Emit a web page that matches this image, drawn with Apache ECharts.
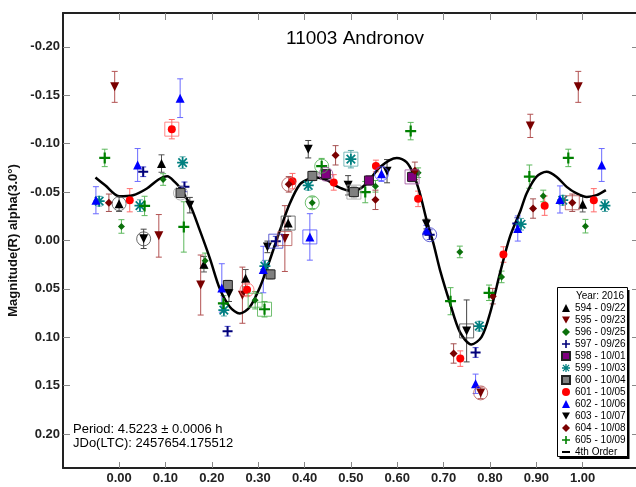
<!DOCTYPE html>
<html>
<head>
<meta charset="utf-8">
<script src="https://cdn.jsdelivr.net/npm/echarts@6/dist/echarts.min.js"></script>
<style>
  html, body { margin: 0; padding: 0; background: #fff; }
  #chart { width: 636px; height: 487px; }
</style>
</head>
<body>
<div id="chart"></div>
<script>
// Lightcurve of 11003 Andronov: [phase, magnitude, error] per observing session
const s594 = [[0.000,-0.038,0.008],[0.0915,-0.0795,0.009],[0.183,0.0245,0.008],[0.273,0.039,0.009],[0.3647,-0.018,0.007],[1.000,-0.0375,0.008]];
const s595 = [[-0.0095,-0.1587,0.016],[0.0857,-0.0048,0.022],[0.176,0.046,0.031],[0.266,0.0565,0.029],[0.3576,-0.002,0.034],[0.780,0.1574,0.006],[0.887,-0.1184,0.012],[0.9905,-0.1587,0.016]];
const s596 = [[0.005,-0.0145,0.007],[0.095,-0.063,0.006],[0.1856,0.021,0.008],[0.2935,0.0617,0.009],[0.4166,-0.039,0.006],[0.553,-0.056,0.006],[0.645,-0.070,0.005],[0.735,0.0118,0.006],[0.825,0.0376,0.006],[0.915,-0.046,0.006],[1.006,-0.0148,0.007]];
const s597 = [[0.052,-0.071,0.005],[0.141,-0.0554,0.005],[0.234,0.0937,0.005],[0.338,0.0007,0.005],[0.670,-0.006,0.005],[0.769,0.1157,0.005],[0.859,-0.0175,0.006]];
const s598 = [[0.446,-0.0685,0.005],[0.539,-0.062,0.005],[0.632,-0.0657,0.005]];
const s599 = [[-0.043,-0.0406,0.005],[0.045,-0.036,0.006],[0.137,-0.0805,0.006],[0.226,0.072,0.006],[0.3145,0.0265,0.006],[0.408,-0.057,0.005],[0.500,-0.084,0.009],[0.777,0.0885,0.005],[0.867,-0.0168,0.006],[0.957,-0.0416,0.005],[1.048,-0.036,0.006]];
const s600 = [[0.1325,-0.049,0.004],[0.2346,0.046,0.005],[0.3267,0.035,0.005],[0.417,-0.0667,0.005],[0.5065,-0.050,0.006]];
const s601 = [[0.023,-0.0416,0.012],[0.1137,-0.115,0.010],[0.276,0.051,0.006],[0.374,-0.0613,0.008],[0.463,-0.060,0.008],[0.554,-0.077,0.006],[0.645,-0.043,0.008],[0.736,0.122,0.008],[0.829,0.0145,0.008],[0.918,-0.036,0.010],[1.024,-0.0416,0.012]];
const s602 = [[-0.050,-0.0416,0.014],[0.040,-0.078,0.017],[0.1317,-0.147,0.020],[0.2216,0.049,0.025],[0.311,0.030,0.024],[0.4115,-0.0037,0.024],[0.566,-0.069,0.008],[0.663,-0.0106,0.005],[0.769,0.148,0.010],[0.860,-0.0124,0.013],[0.951,-0.0424,0.014],[1.041,-0.078,0.017]];
const s603 = [[0.053,-0.0017,0.010],[0.1526,-0.0365,0.008],[0.237,0.055,0.008],[0.320,0.0066,0.006],[0.408,-0.0943,0.009],[0.494,-0.057,0.010],[0.578,-0.0716,0.012],[0.663,-0.017,0.005],[0.7497,0.0934,0.032]];
const s604 = [[-0.022,-0.039,0.009],[0.366,-0.058,0.008],[0.467,-0.088,0.010],[0.553,-0.042,0.010],[0.638,-0.072,0.009],[0.7216,0.1167,0.010],[0.806,0.0575,0.008],[0.893,-0.033,0.010],[0.9776,-0.039,0.009]];
const s605 = [[-0.031,-0.0853,0.009],[0.055,-0.0357,0.010],[0.1396,-0.014,0.026],[0.225,0.065,0.008],[0.3137,0.071,0.008],[0.437,-0.0768,0.008],[0.531,-0.050,0.011],[0.629,-0.113,0.009],[0.715,0.0627,0.014],[0.798,0.054,0.008],[0.885,-0.066,0.012],[0.969,-0.0853,0.009]];

// Session start / end markers: [phase, magnitude, session]
const circled = [[0.000,-0.038,'594'],[0.053,-0.0017,'603'],[0.1325,-0.049,'600'],[0.276,0.051,'601'],[0.366,-0.058,'604'],[0.4166,-0.039,'596'],[0.437,-0.0768,'605'],[0.446,-0.0685,'598'],[0.566,-0.069,'602'],[0.670,-0.006,'597'],[0.780,0.1574,'595']];
const squared = [[0.1137,-0.115,'601'],[0.2935,0.0617,'596'],[0.3137,0.071,'605'],[0.338,0.0007,'597'],[0.3576,-0.002,'595'],[0.3647,-0.018,'594'],[0.4115,-0.0037,'602'],[0.500,-0.084,'599'],[0.5065,-0.050,'600'],[0.632,-0.0657,'598'],[0.7497,0.0934,'603'],[0.9776,-0.039,'604']];

// 4th order Fourier fit
const fitPhase = [-0.051,-0.03,0.0,0.03,0.06,0.085,0.104,0.12,0.131,0.153,0.174,0.196,0.217,0.239,0.2605,0.282,0.304,0.325,0.347,0.368,0.39,0.412,0.426,0.448,0.469,0.491,0.508,0.534,0.563,0.599,0.62,0.6345,0.649,0.6634,0.678,0.692,0.714,0.735,0.760,0.782,0.80,0.8215,0.843,0.866,0.879,0.90,0.922,0.944,0.9655,0.987,1.009,1.03,1.05];
const fitMag = [-0.065,-0.057,-0.0458,-0.0468,-0.0537,-0.063,-0.0664,-0.0605,-0.0545,-0.037,-0.0107,0.0187,0.0496,0.0686,0.0754,0.0686,0.048,0.0204,-0.0106,-0.038,-0.058,-0.064,-0.065,-0.0623,-0.0562,-0.052,-0.0515,-0.0589,-0.076,-0.0853,-0.081,-0.069,-0.0485,-0.021,0.003,0.030,0.065,0.0944,0.1074,0.0996,0.0754,0.034,-0.0037,-0.031,-0.0486,-0.0657,-0.0709,-0.0657,-0.0554,-0.0486,-0.045,-0.0468,-0.052];

const phaseTicks = [0.0,0.1,0.2,0.3,0.4,0.5,0.6,0.7,0.8,0.9,1.0];
const magTicks = [-0.20,-0.15,-0.10,-0.05,0.00,0.05,0.10,0.15,0.20];

const FONT = '"Liberation Sans", Arial, Helvetica, sans-serif';

const TRI_DOWN = 'path://M0,0L10,0L5,9Z';
const PLUS = 'path://M4,0h2v4h4v2h-4v4h-2v-4h-4v-2h4z';
const ASTER = 'path://M0,4.2h10v1.6h-10z M4.2,0h1.6v10h-1.6z M0.6,1.7L1.7,0.6L9.4,8.3L8.3,9.4Z M8.3,0.6L9.4,1.7L1.7,9.4L0.6,8.3Z';

const sessions = [
  { id: '594', name: '594 - 09/22', data: s594, symbol: 'triangle', size: 9, color: '#000000', bar: '#555555', ring: '#555555' },
  { id: '595', name: '595 - 09/23', data: s595, symbol: TRI_DOWN, size: 9, color: '#7a0000', bar: '#b35353', ring: '#b35353' },
  { id: '596', name: '596 - 09/25', data: s596, symbol: 'diamond', size: 7, color: '#0b700b', bar: '#5cb85c', ring: '#4caf4c' },
  { id: '597', name: '597 - 09/26', data: s597, symbol: PLUS, size: 10, color: '#00007a', bar: '#4d4dd6', ring: '#3a3ac8' },
  { id: '598', name: '598 - 10/01', data: s598, symbol: 'rect', size: 9, color: '#800080', bar: '#a55aa5', ring: '#a04ca0' },
  { id: '599', name: '599 - 10/03', data: s599, symbol: ASTER, size: 11, color: '#008080', bar: '#5aaaaa', ring: '#5aaaaa' },
  { id: '600', name: '600 - 10/04', data: s600, symbol: 'rect', size: 9, color: '#808080', bar: '#aaaaaa', ring: '#a0a0a0' },
  { id: '601', name: '601 - 10/05', data: s601, symbol: 'circle', size: 8, color: '#ff0000', bar: '#ff6b6b', ring: '#ff6b6b' },
  { id: '602', name: '602 - 10/06', data: s602, symbol: 'triangle', size: 9, color: '#0000ff', bar: '#6b6bff', ring: '#4d4dff' },
  { id: '603', name: '603 - 10/07', data: s603, symbol: TRI_DOWN, size: 9, color: '#000000', bar: '#444444', ring: '#444444' },
  { id: '604', name: '604 - 10/08', data: s604, symbol: 'diamond', size: 8, color: '#7a0000', bar: '#a55050', ring: '#b35353' },
  { id: '605', name: '605 - 10/09', data: s605, symbol: PLUS, size: 11, color: '#008000', bar: '#5cb85c', ring: '#4caf4c' }
];
const byId = {};
sessions.forEach(s => { byId[s.id] = s; });

function errorBars(s) {
  return {
    type: 'custom',
    name: s.name + ' err',
    data: s.data,
    z: 2,
    silent: true,
    renderItem: function (params, api) {
      const x = api.value(0), y = api.value(1), e = api.value(2);
      const a = api.coord([x, y - e]);
      const b = api.coord([x, y + e]);
      const st = { stroke: s.bar, lineWidth: 1 };
      return {
        type: 'group',
        children: [
          { type: 'line', shape: { x1: a[0], y1: a[1], x2: b[0], y2: b[1] }, style: st },
          { type: 'line', shape: { x1: a[0] - 3, y1: a[1], x2: a[0] + 3, y2: a[1] }, style: st },
          { type: 'line', shape: { x1: b[0] - 3, y1: b[1], x2: b[0] + 3, y2: b[1] }, style: st }
        ]
      };
    }
  };
}

function markers(s) {
  const boxed = s.symbol === 'rect';
  return {
    type: 'scatter',
    name: s.name,
    data: s.data.map(d => [d[0], d[1]]),
    symbol: s.symbol,
    symbolSize: s.size,
    z: 4,
    itemStyle: {
      color: s.color,
      opacity: 1,
      borderColor: boxed ? '#222' : s.color,
      borderWidth: boxed ? 1 : 0
    }
  };
}

function rings(list, symbol, size) {
  return {
    type: 'scatter',
    data: list.map(r => ({
      value: [r[0], r[1]],
      itemStyle: { color: 'none', borderColor: byId[r[2]].ring, borderWidth: 1 }
    })),
    symbol: symbol,
    symbolSize: size,
    z: 5,
    silent: true
  };
}

const series = [];
sessions.forEach(s => series.push(errorBars(s)));
series.push({
  type: 'line',
  name: '4th Order',
  data: fitPhase.map((p, i) => [p, fitMag[i]]),
  smooth: 0.3,
  symbol: 'none',
  z: 3,
  lineStyle: { color: '#000', width: 2.5 },
  itemStyle: { color: '#000' }
});
sessions.forEach(s => series.push(markers(s)));
series.push(rings(circled, 'circle', 14));
series.push(rings(squared, 'rect', 14));

const axisLineStyle = { color: '#222', width: 2 };
const tickStyle = { color: '#888', width: 1 };
const labelStyle = { fontFamily: FONT, fontSize: 13, fontWeight: 'bold', color: '#222' };

const option = {
  animation: false,
  backgroundColor: '#fff',
  grid: { left: 63, top: 13, width: 576, height: 455, containLabel: false, outerBoundsMode: 'none' },
  xAxis: [
    {
      type: 'value', position: 'bottom', min: -0.121, max: 1.1215,
      axisLine: { show: true, onZero: false, lineStyle: axisLineStyle },
      axisTick: { show: true, inside: true, length: 6, customValues: phaseTicks, lineStyle: tickStyle },
      axisLabel: { show: true, margin: 4, customValues: phaseTicks, formatter: v => v.toFixed(2), ...labelStyle },
      splitLine: { show: false }
    },
    {
      type: 'value', position: 'top', min: -0.121, max: 1.1215,
      axisLine: { show: true, onZero: false, lineStyle: axisLineStyle },
      axisTick: { show: true, inside: true, length: 7, customValues: phaseTicks, lineStyle: tickStyle },
      axisLabel: { show: false },
      splitLine: { show: false }
    }
  ],
  yAxis: [
    {
      type: 'value', position: 'left', inverse: true, min: -0.235, max: 0.235,
      name: 'Magnitude(R) alpha(3.0°)', nameLocation: 'middle', nameGap: 42, nameRotate: 90,
      nameTextStyle: { fontFamily: FONT, fontSize: 13, fontWeight: 'bold', color: '#111' },
      axisLine: { show: true, onZero: false, lineStyle: axisLineStyle },
      axisTick: { show: true, inside: true, length: 7, customValues: magTicks, lineStyle: tickStyle },
      axisLabel: { show: true, margin: 3, customValues: magTicks, formatter: v => v.toFixed(2), ...labelStyle },
      splitLine: { show: false }
    },
    {
      type: 'value', position: 'right', inverse: true, min: -0.235, max: 0.235,
      axisLine: { show: true, onZero: false, lineStyle: axisLineStyle },
      axisTick: { show: true, inside: true, length: 7, customValues: magTicks, lineStyle: tickStyle },
      axisLabel: { show: false },
      splitLine: { show: false }
    }
  ],
  legend: {
    orient: 'vertical',
    left: 557,
    top: 288,
    padding: [15, 2, 2, 4],
    itemWidth: 8,
    itemHeight: 8,
    itemGap: 2,
    z: 20,
    selectedMode: false,
    data: sessions.map(s => s.name).concat([{ name: '4th Order', icon: 'path://M0,0h8v2h-8z' }]),
    textStyle: { fontFamily: FONT, fontSize: 10, color: '#000' }
  },
  graphic: [
    {
      type: 'text', z: 10, silent: true,
      style: { text: '11003 Andronov', x: 355, y: 38.5, textAlign: 'center', textVerticalAlign: 'middle', fontFamily: FONT, fontSize: 19, fill: '#000' }
    },
    {
      type: 'text', z: 10, silent: true,
      style: { text: 'Period: 4.5223 ± 0.0006 h\nJDo(LTC): 2457654.175512', x: 73, y: 422, fontFamily: FONT, fontSize: 13, lineHeight: 14, fill: '#000' }
    },
    {
      type: 'rect', z: 18, silent: true,
      shape: { x: 559.5, y: 290, width: 70, height: 169 },
      style: { fill: '#000' }
    },
    {
      type: 'rect', z: 19, silent: true,
      shape: { x: 557.5, y: 287.5, width: 70, height: 169 },
      style: { fill: '#fff', stroke: '#000', lineWidth: 1 }
    },
    {
      type: 'text', z: 21, silent: true,
      style: { text: 'Year: 2016', x: 624, y: 296, textAlign: 'right', textVerticalAlign: 'middle', fontFamily: FONT, fontSize: 10, fill: '#000' }
    }
  ],
  series: series
};

const chart = echarts.init(document.getElementById('chart'), null, { renderer: 'canvas' });
chart.setOption(option);
</script>
</body>
</html>
